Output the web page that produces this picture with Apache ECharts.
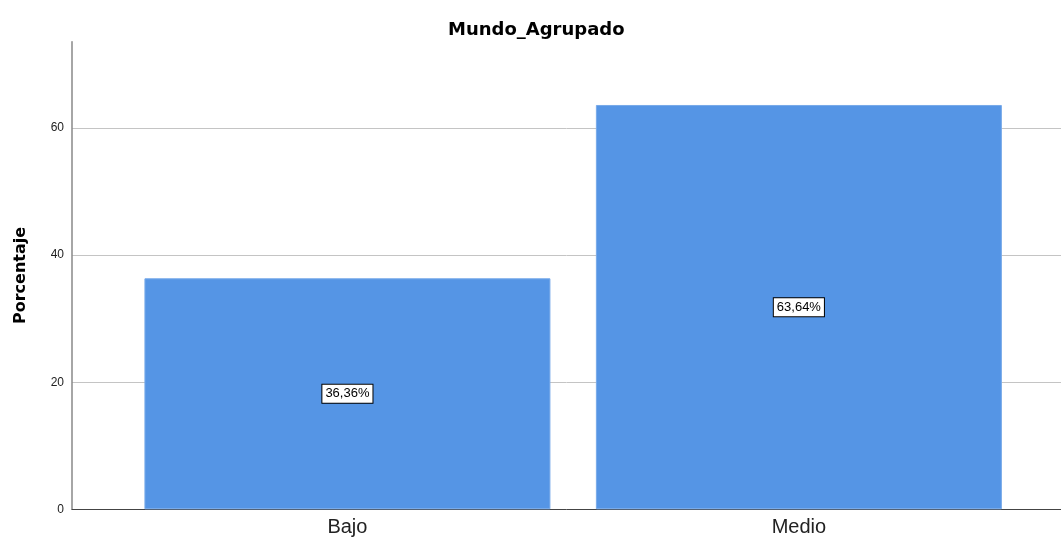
<!DOCTYPE html>
<html>
<head>
<meta charset="utf-8">
<script src="https://cdn.jsdelivr.net/npm/echarts@6/dist/echarts.min.js"></script>
<style>
  html, body { margin: 0; padding: 0; background: #fff; }
  #chart { width: 1061px; height: 539px; }
</style>
</head>
<body>
<div id="chart"></div>
<script>
const categories = ["Bajo", "Medio"];
const percents = [36.36, 63.64];
const yTicks = { min: 0, max: 73.6, interval: 20 };

const font = "'Liberation Sans', Arial, sans-serif";
const boldFont = "'DejaVu Sans', 'Liberation Sans', sans-serif";
const myChart = echarts.init(document.getElementById("chart"));

const option = {
    animation: false,
    title: {
        text: "Mundo_Agrupado",
        left: 443,
        top: 16,
        textStyle: { fontFamily: boldFont, fontSize: 18, fontWeight: "bold", color: "#000" }
    },
    grid: [
        // frame: y axis, gridlines, baseline
        { left: 72, right: 0, top: 41.7, bottom: 29.7 },
        // bars
        { left: 121.7, right: 36.4, top: 41.7, bottom: 29.7 }
    ],
    xAxis: [
        {
            gridIndex: 0,
            type: "value",
            min: 0,
            max: 1,
            axisLine: { show: true, lineStyle: { color: "#444", width: 1 } },
            axisTick: { show: false },
            axisLabel: { show: false },
            splitLine: { show: false }
        },
        {
            gridIndex: 1,
            type: "category",
            data: categories,
            axisLine: { show: false },
            axisTick: { show: false },
            axisLabel: { fontFamily: font, fontSize: 20, color: "#222", margin: 8 }
        }
    ],
    yAxis: [
        {
            gridIndex: 0,
            type: "value",
            min: yTicks.min,
            max: yTicks.max,
            interval: yTicks.interval,
            name: "Porcentaje",
            nameLocation: "middle",
            nameGap: 43,
            nameTextStyle: { fontFamily: boldFont, fontSize: 16, fontWeight: "bold", color: "#000" },
            axisLine: { show: true, lineStyle: { color: "#888", width: 1.5 } },
            axisTick: { show: false },
            axisLabel: {
                fontFamily: font, fontSize: 12, color: "#222", margin: 8,
                showMaxLabel: false, padding: [3, 0, 0, 0]
            },
            splitLine: { show: true, showMaxLine: false, lineStyle: { color: "#c4c4c4", width: 1 } }
        },
        {
            gridIndex: 1,
            type: "value",
            min: yTicks.min,
            max: yTicks.max,
            show: false,
            splitLine: { show: false }
        }
    ],
    series: [
        {
            type: "bar",
            xAxisIndex: 1,
            yAxisIndex: 1,
            barWidth: 406,
            data: percents,
            itemStyle: { color: "#5595e5", borderColor: "#78aaea", borderWidth: 1 },
            label: {
                show: true,
                position: "inside",
                formatter: p => p.value.toFixed(2).replace(".", ",") + "%",
                fontFamily: font,
                fontSize: 13,
                color: "#000",
                backgroundColor: "#fff",
                borderColor: "#000",
                borderWidth: 1,
                padding: [3, 3, 2, 3]
            }
        }
    ]
};

myChart.setOption(option);
</script>
</body>
</html>
